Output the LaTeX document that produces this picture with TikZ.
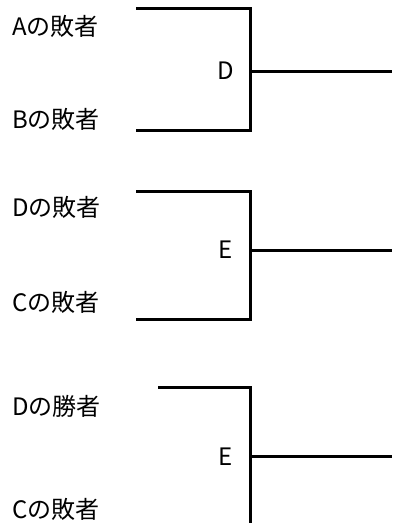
\documentclass[tikz,border=0pt]{standalone}
\usepackage{fontspec}
\setmainfont{Noto Sans CJK JP}
\begin{document}
\begin{tikzpicture}[x=1pt,y=-1pt,
  lbl/.style={anchor=west,inner sep=0pt,font=\fontsize{24}{24}\selectfont},
  mid/.style={inner sep=0pt,font=\fontsize{24}{24}\selectfont},
  br/.style={line width=3pt,line join=miter}]
\useasboundingbox (0,0) rectangle (392,523);
% bracket 1
\node[lbl] (a1) at (12,26) {Aの敗者};
\node[lbl] (b1) at (12,119) {Bの敗者};
\node[mid] (m1) at (226,71) {D};
\coordinate (t1) at (136,8);
\coordinate (u1) at (136,130);
\coordinate (j1) at (250,71);
\coordinate (e1) at (392,71);
\draw[br] (t1) -| (j1) |- (u1);
\draw[br] (j1) -- (e1);
% bracket 2
\node[lbl] (a2) at (12,207) {Dの敗者};
\node[lbl] (b2) at (12,302) {Cの敗者};
\node[mid] (m2) at (226,250) {E};
\coordinate (t2) at (136,191);
\coordinate (u2) at (136,319);
\coordinate (j2) at (250,250);
\coordinate (e2) at (392,250);
\draw[br] (t2) -| (j2) |- (u2);
\draw[br] (j2) -- (e2);
% bracket 3
\node[lbl] (a3) at (12,406) {Dの勝者};
\node[lbl] (b3) at (12,509) {Cの敗者};
\node[mid] (m3) at (226,457) {E};
\coordinate (t3) at (158,387);
\coordinate (j3) at (250,456);
\coordinate (u3) at (250,523);
\coordinate (e3) at (392,456);
\draw[br] (t3) -| (j3) -- (u3);
\draw[br] (j3) -- (e3);
\end{tikzpicture}
\end{document}
